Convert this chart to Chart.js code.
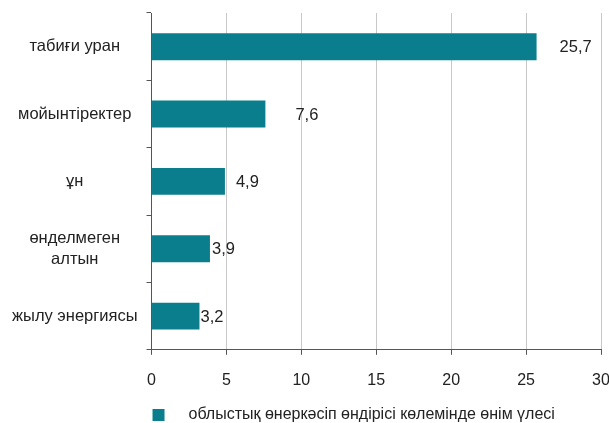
<!DOCTYPE html>
<html>
<head>
<meta charset="utf-8">
<script src="https://cdn.jsdelivr.net/npm/chart.js@4"></script>
<style>
  html, body { margin: 0; padding: 0; background: #fff; }
  #wrap { width: 609px; height: 423px; }
</style>
</head>
<body>
<div id="wrap"><canvas id="barChart"></canvas></div>
<script>
const categories = ['табиғи уран', 'мойынтіректер', 'ұн', ['өнделмеген', 'алтын'], 'жылу энергиясы'];
const shareValues = [25.7, 7.6, 4.9, 3.9, 3.2];
const seriesLabel = 'облыстық өнеркәсіп өндірісі көлемінде өнім үлесі';
const xTicks = [0, 5, 10, 15, 20, 25, 30];

// gap between bar end and its value label (px), as placed in the original
const labelGaps = [23, 30, 11, 2, 1];

const barColor = '#0a7e8c';
const textColor = '#222222';
const fontFamily = '"Liberation Sans", Arial, sans-serif';

const valueLabels = {
    id: 'valueLabels',
    afterDatasetsDraw(chart) {
        const ctx = chart.ctx;
        const meta = chart.getDatasetMeta(0);
        ctx.save();
        ctx.font = '16.5px ' + fontFamily;
        ctx.fillStyle = textColor;
        ctx.textAlign = 'left';
        ctx.textBaseline = 'middle';
        meta.data.forEach((bar, i) => {
            const txt = shareValues[i].toFixed(1).replace('.', ',');
            ctx.fillText(txt, bar.x + labelGaps[i], bar.y + 1);
        });
        ctx.restore();
    }
};

const bottomLegend = {
    id: 'bottomLegend',
    afterDraw(chart) {
        const ctx = chart.ctx;
        const area = chart.chartArea;
        const y = 415;
        ctx.save();
        ctx.fillStyle = barColor;
        ctx.fillRect(area.left + 1, y - 6, 12, 12);
        ctx.font = '16px ' + fontFamily;
        ctx.fillStyle = textColor;
        ctx.textBaseline = 'middle';
        ctx.fillText(seriesLabel, area.left + 37, y);
        ctx.restore();
    }
};

const config = {
    type: 'bar',
    data: {
        labels: categories,
        datasets: [{
            label: seriesLabel,
            data: shareValues,
            backgroundColor: barColor,
            borderWidth: 0,
            barPercentage: 0.4,
            categoryPercentage: 1
        }]
    },
    options: {
        indexAxis: 'y',
        responsive: true,
        maintainAspectRatio: false,
        animation: false,
        layout: {
            padding: { top: 13, bottom: 17, left: 3, right: 8 }
        },
        scales: {
            x: {
                min: 0,
                max: 30,
                afterBuildTicks(axis) {
                    axis.ticks = xTicks.map(v => ({ value: v }));
                },
                afterFit(axis) {
                    axis.paddingLeft = 0;
                    axis.paddingRight = 0;
                },
                grid: {
                    color: '#c8c8c8',
                    lineWidth: 1,
                    tickLength: 5,
                    tickColor: '#555555'
                },
                border: { color: '#555555', width: 1 },
                ticks: {
                    color: textColor,
                    padding: 16,
                    font: { size: 16, family: fontFamily }
                }
            },
            y: {
                afterFit(axis) {
                    axis.paddingTop = 0;
                    axis.paddingBottom = 0;
                },
                grid: {
                    drawOnChartArea: false,
                    offset: true,
                    tickLength: 5,
                    tickColor: '#555555'
                },
                border: { color: '#555555', width: 1 },
                ticks: {
                    color: textColor,
                    padding: 9,
                    crossAlign: 'center',
                    font: { size: 16.5, family: fontFamily, lineHeight: 1.3 }
                }
            }
        },
        plugins: {
            legend: { display: false },
            tooltip: { enabled: false }
        }
    },
    plugins: [valueLabels, bottomLegend]
};

const ctx = document.getElementById('barChart').getContext('2d');
const barChart = new Chart(ctx, config);
</script>
</body>
</html>
